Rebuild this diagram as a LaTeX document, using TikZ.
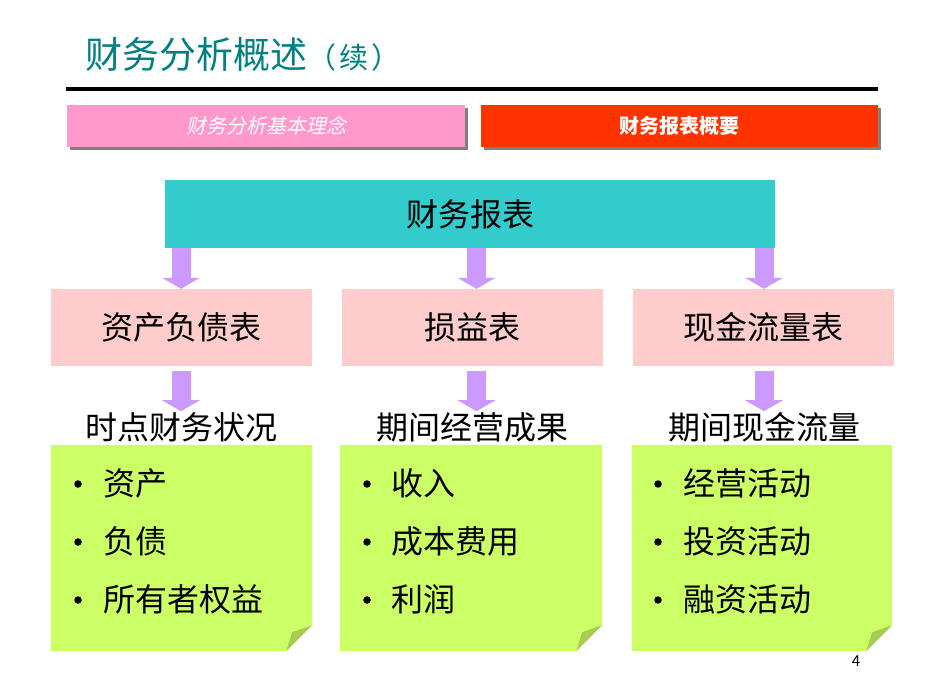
\documentclass[tikz,border=0pt]{standalone}
\usepackage{fontspec}
\setmainfont{Noto Sans CJK SC}[AutoFakeSlant=0.2]
\usetikzlibrary{arrows.meta,shadows,calc}

\definecolor{titleteal}{RGB}{0,128,128}
\definecolor{tabpink}{RGB}{255,153,204}
\definecolor{tabred}{RGB}{255,51,0}
\definecolor{headteal}{RGB}{51,204,204}
\definecolor{sheetpink}{RGB}{255,204,204}
\definecolor{notegreen}{RGB}{204,255,102}
\definecolor{foldgreen}{RGB}{166,204,82}
\definecolor{arrowpurple}{RGB}{204,153,255}

\newcommand{\fs}[1]{\fontsize{#1}{#1}\selectfont}

\begin{document}
\begin{tikzpicture}[
	x=1pt, y=-1pt,
	% Define the styles for the boxes and arrows
	tabbox/.style={rectangle, inner sep=0pt, minimum width=397pt, minimum height=42pt,
		text=white, font=\fs{20}, drop shadow={shadow xshift=3pt, shadow yshift=-3pt, fill=gray, opacity=1}},
	sheetbox/.style={rectangle, inner sep=0pt, fill=sheetpink, minimum width=261pt, minimum height=77pt, font=\fs{32}},
	notebox/.style={rectangle, inner sep=0pt, minimum width=261pt, minimum height=206pt},
	heading/.style={inner sep=0pt, font=\fs{32}},
	item/.style={inner sep=0pt, anchor=west, font=\fs{32}},
	dot/.style={circle, fill=black, inner sep=0pt, minimum size=7.5pt},
	bigarrow/.style={draw=arrowpurple, line width=19pt, -{Triangle[width=38pt,length=11pt,line width=0pt]}}
	]
	
	% --- FRAME ---
	\useasboundingbox (0,0) rectangle (942,684);
	
	% --- TITLE ---
	\node (title) at (85,54) [anchor=west, inner sep=0pt, text=titleteal, font=\fs{37}] {财务分析概述{\fs{29}（\hspace{3pt}续\hspace{3pt}）}};
	\coordinate (ruleL) at (66,89);
	\coordinate (ruleR) at (878,89);
	\draw[line width=4pt] (ruleL) -- (ruleR);
	
	% --- TABS ---
	\node (tabA) at (266,126) [tabbox, fill=tabpink, minimum width=398pt] {\itshape 财务分析基本理念};
	\node (tabB) at (679.5,126) [tabbox, fill=tabred] {\bfseries 财务报表概要};
	
	% --- MAIN BOX ---
	\node (fs) at (470,214) [rectangle, inner sep=0pt, fill=headteal, minimum width=610pt, minimum height=68pt, font=\fs{32}] {财务报表};
	
	% --- THE THREE STATEMENTS ---
	\node (bs) at (181.5,327.5) [sheetbox] {资产负债表};
	\node (is) at (472.5,327.5) [sheetbox] {损益表};
	\node (cf) at (763.5,327.5) [sheetbox] {现金流量表};
	
	\node (hbs) at (181,427) [heading] {时点财务状况};
	\node (his) at (472,427) [heading] {期间经营成果};
	\node (hcf) at (764,427) [heading] {期间现金流量};
	
	% --- NOTES ---
	\node (nbs) at (181.5,548) [notebox] {};
	\node (nis) at (471,548) [notebox, minimum width=262pt] {};
	\node (ncf) at (762,548) [notebox, minimum width=260pt] {};
	\foreach \n in {nbs,nis,ncf}{
		\fill[notegreen] (\n.north west) -- (\n.north east) -- ($(\n.south east)+(0,-26)$)
			-- ($(\n.south east)+(-26,0)$) -- (\n.south west) -- cycle;
		\fill[foldgreen] ($(\n.south east)+(0,-26)$) -- ($(\n.south east)+(-26,0)$)
			-- ($(\n.south east)+(-20,-19)$) -- cycle;
	}
	
	% bullets and items
	\node (d1) at (78,484) [dot] {};
	\node (d2) at (78,542) [dot] {};
	\node (d3) at (78,600) [dot] {};
	\node (i1) at (103,483) [item] {资产};
	\node (i2) at (103,541) [item] {负债};
	\node (i3) at (103,599) [item] {所有者权益};
	
	\node (d4) at (367,484) [dot] {};
	\node (d5) at (367,542) [dot] {};
	\node (d6) at (367,600) [dot] {};
	\node (i4) at (391,483) [item] {收入};
	\node (i5) at (391,541) [item] {成本费用};
	\node (i6) at (391,599) [item] {利润};
	
	\node (d7) at (658,484) [dot] {};
	\node (d8) at (658,542) [dot] {};
	\node (d9) at (658,600) [dot] {};
	\node (i7) at (683,483) [item] {经营活动};
	\node (i8) at (683,541) [item] {投资活动};
	\node (i9) at (683,599) [item] {融资活动};
	
	% --- ARROWS ---
	\coordinate (x1) at (181,0);
	\coordinate (x2) at (476.5,0);
	\coordinate (x3) at (764,0);
	
	\draw[bigarrow] (fs.south -| x1) -- (bs.north -| x1);
	\draw[bigarrow] (fs.south -| x2) -- (is.north -| x2);
	\draw[bigarrow] (fs.south -| x3) -- (cf.north -| x3);
	
	\draw[bigarrow] ([yshift=-5pt]bs.south -| x1) -- ([yshift=-45pt]bs.south -| x1);
	\draw[bigarrow] ([yshift=-5pt]is.south -| x2) -- ([yshift=-45pt]is.south -| x2);
	\draw[bigarrow] ([yshift=-5pt]cf.south -| x3) -- ([yshift=-45pt]cf.south -| x3);
	
	% --- PAGE NUMBER ---
	\node (page) at (856,661) [inner sep=0pt, font=\fs{15}] {4};
	
\end{tikzpicture}
\end{document}
